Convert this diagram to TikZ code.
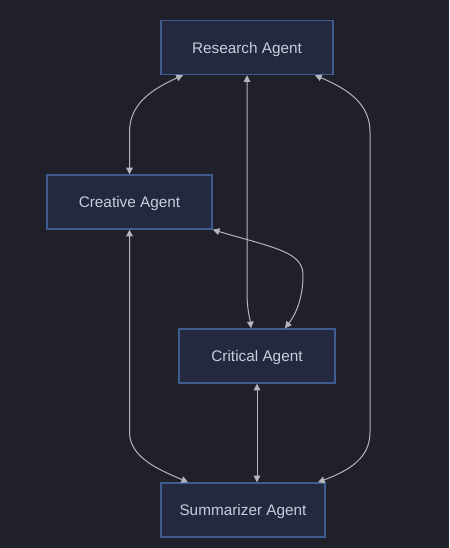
\documentclass[tikz,border=0pt]{standalone}
\usepackage{fontspec}
\setmainfont{Liberation Sans}
\usetikzlibrary{calc,arrows.meta}
\definecolor{bgdark}{HTML}{1F2029}
\definecolor{boxfill}{HTML}{232A40}
\definecolor{boxline}{HTML}{3F5B8F}
\definecolor{boxtext}{HTML}{C9CDD9}
\definecolor{linkgray}{HTML}{B4B6BC}
\tikzset{
	agent/.style={draw=boxline, fill=boxfill, line width=1.1pt, text=boxtext,
		font=\fontsize{11.5}{14}\selectfont, minimum height=40.5pt, inner sep=0pt,
		text depth=0pt},
	link/.style={draw=linkgray, line width=0.75pt,
		{Triangle[length=5pt,width=5pt]}-{Triangle[length=5pt,width=5pt]}}
}

\begin{document}
\begin{tikzpicture}[x=0.75pt, y=-0.75pt]
		%%%%% START %%%%%
		
		\fill[bgdark] (0, 0) rectangle (449, 548);
		\useasboundingbox (0, 0) rectangle (449, 548);
		
		\node[agent, minimum width=129pt] (research) at (247, 47.5) {Research Agent};
		\node[agent, minimum width=123.75pt] (creative) at (129.5, 202) {Creative Agent};
		\node[agent, minimum width=117pt] (critical) at (257, 356) {Critical Agent};
		\node[agent, minimum width=123pt] (summarizer) at (243, 510) {Summarizer Agent};
		
		\draw[link] ($(research.south)+(-64, 0)$) .. controls (150, 90) and (129.5, 105) .. (129.5, 132) -- (creative.north);
		\draw[link] (research.south) -- (247, 290) .. controls (247, 312) and (250, 318) .. ($(critical.north)+(-6, 0)$);
		\draw[link] ($(research.south)+(68, 0)$) .. controls (350, 90) and (370, 105) .. (370, 132) -- (370, 432) .. controls (370, 458) and (350, 470) .. ($(summarizer.north)+(75, 0)$);
		
		\draw[link] (creative.south east) .. controls (275, 248) and (303, 252) .. (303, 275) .. controls (303, 298) and (296, 314) .. ($(critical.north)+(28, 0)$);
		\draw[link] (creative.south) -- (129.5, 432) .. controls (129.5, 458) and (160, 470) .. ($(summarizer.north)+(-55, 0)$);
		
		\draw[link] (critical.south) -- (critical.south |- summarizer.north);
		
		%%%%% END %%%%%
\end{tikzpicture}
\end{document}
